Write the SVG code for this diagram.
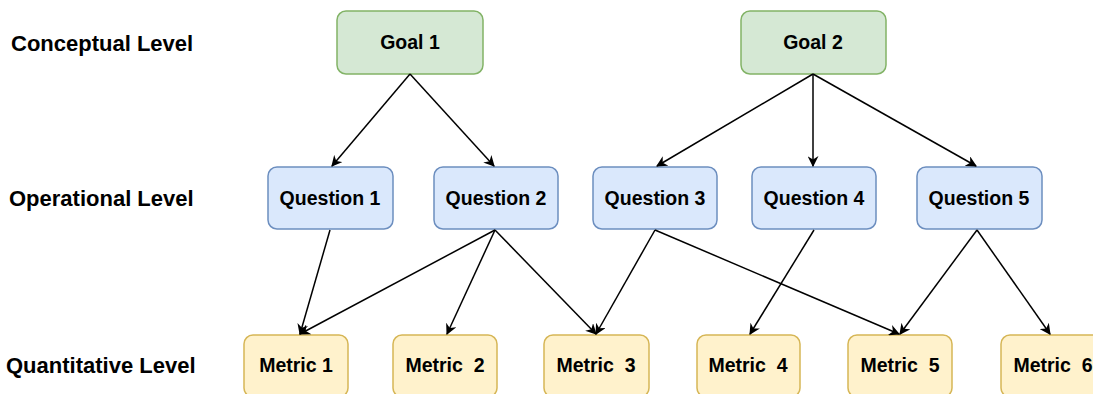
<svg xmlns="http://www.w3.org/2000/svg" width="1093" height="394" viewBox="0 0 1093 394">
<style>
.lbl{font-family:"Liberation Sans",Arial,sans-serif;font-weight:bold;font-size:22px;fill:#000}
.t{font-family:"Liberation Sans",Arial,sans-serif;font-weight:bold;font-size:19.5px;fill:#000;text-anchor:middle;dominant-baseline:central;white-space:pre}
.goal{fill:#d5e8d4;stroke:#82b366;stroke-width:1.5}
.q{fill:#dae8fc;stroke:#6c8ebf;stroke-width:1.5}
.m{fill:#fff2cc;stroke:#d6b656;stroke-width:1.5}
.e{stroke:#000;stroke-width:1.5;fill:none;marker-end:url(#arr)}
</style>
<defs>
<marker id="arr" viewBox="0 0 10 10" refX="9" refY="5" markerWidth="11" markerHeight="11" markerUnits="userSpaceOnUse" orient="auto">
<path d="M0,0 L10,5 L0,10 L3,5 Z" fill="#000"/>
</marker>
</defs>
<rect width="1093" height="394" fill="#fff"/>
<g id="labels">
<text class="lbl" x="11" y="51">Conceptual Level</text>
<text class="lbl" x="9" y="206">Operational Level</text>
<text class="lbl" x="6" y="373">Quantitative Level</text>
</g>
<g id="goal1"><rect class="goal" x="337" y="11" width="146" height="63" rx="9"/><text class="t" x="410" y="42">Goal 1</text></g>
<g id="goal2"><rect class="goal" x="741" y="11" width="145" height="63" rx="9"/><text class="t" x="813" y="42">Goal 2</text></g>
<g id="q1"><rect class="q" x="268" y="167" width="125" height="62" rx="9"/><text class="t" x="330" y="198">Question 1</text></g>
<g id="q2"><rect class="q" x="434" y="167" width="124" height="62" rx="9"/><text class="t" x="496" y="198">Question 2</text></g>
<g id="q3"><rect class="q" x="593" y="167" width="124" height="62" rx="9"/><text class="t" x="655" y="198">Question 3</text></g>
<g id="q4"><rect class="q" x="752" y="167" width="124" height="62" rx="9"/><text class="t" x="814" y="198">Question 4</text></g>
<g id="q5"><rect class="q" x="917" y="167" width="125" height="62" rx="9"/><text class="t" x="979" y="198">Question 5</text></g>
<g id="m1"><rect class="m" x="244" y="335" width="104" height="62" rx="9"/><text class="t" x="296" y="365">Metric 1</text></g>
<g id="m2"><rect class="m" x="393" y="335" width="104" height="62" rx="9"/><text class="t" x="445" y="365">Metric  2</text></g>
<g id="m3"><rect class="m" x="544" y="335" width="105" height="62" rx="9"/><text class="t" x="596" y="365">Metric  3</text></g>
<g id="m4"><rect class="m" x="697" y="335" width="103" height="62" rx="9"/><text class="t" x="748" y="365">Metric  4</text></g>
<g id="m5"><rect class="m" x="848" y="335" width="104" height="62" rx="9"/><text class="t" x="900" y="365">Metric  5</text></g>
<g id="m6"><rect class="m" x="1001" y="335" width="104" height="62" rx="9"/><text class="t" x="1053" y="365">Metric  6</text></g>
<g id="connectors">
<line class="e" x1="410" y1="74" x2="332" y2="166"/>
<line class="e" x1="410" y1="74" x2="494" y2="166"/>
<line class="e" x1="813" y1="74" x2="657" y2="166"/>
<line class="e" x1="813" y1="74" x2="813" y2="166"/>
<line class="e" x1="813" y1="74" x2="976" y2="166"/>
<line class="e" x1="330" y1="230" x2="300" y2="334"/>
<line class="e" x1="495" y1="230" x2="300" y2="334"/>
<line class="e" x1="495" y1="230" x2="447" y2="334"/>
<line class="e" x1="495" y1="230" x2="596" y2="334"/>
<line class="e" x1="655" y1="230" x2="596" y2="334"/>
<line class="e" x1="655" y1="230" x2="899" y2="334"/>
<line class="e" x1="814" y1="230" x2="750" y2="334"/>
<line class="e" x1="977" y1="230" x2="900" y2="334"/>
<line class="e" x1="977" y1="230" x2="1050" y2="334"/>
</g>
</svg>
